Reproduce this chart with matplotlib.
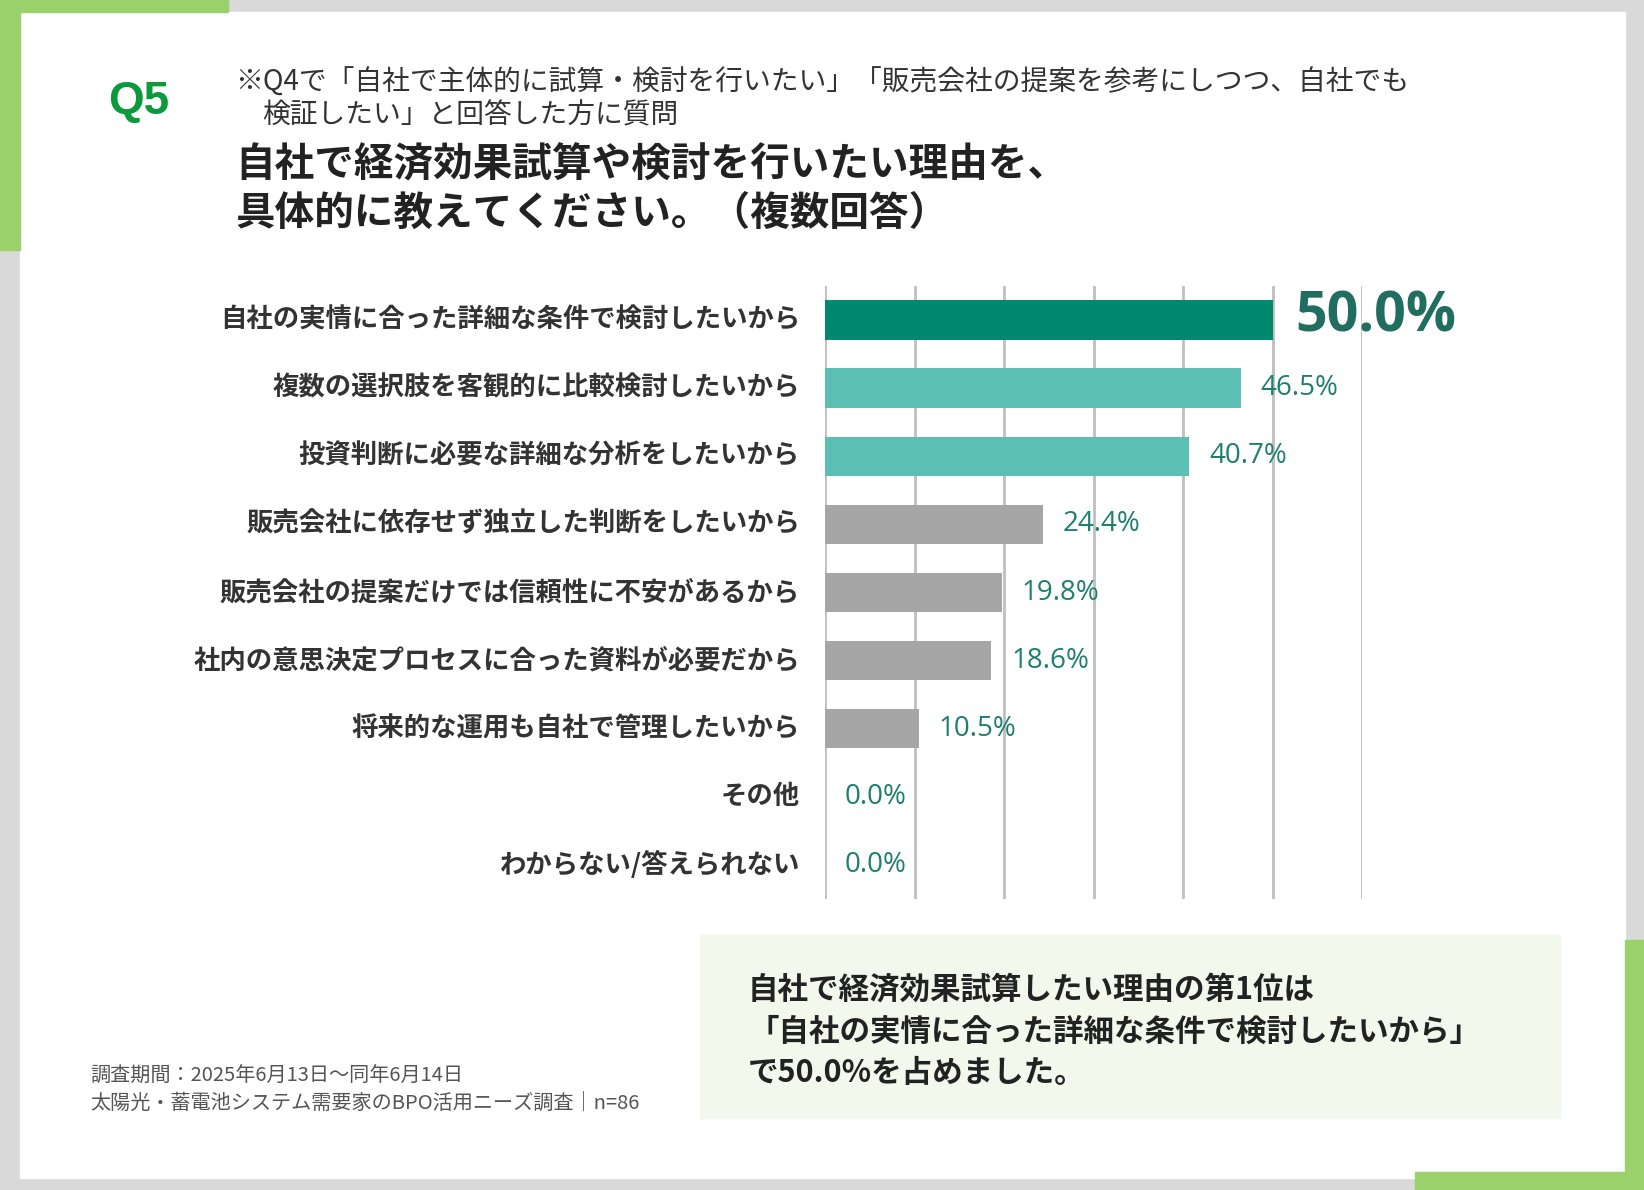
import matplotlib.pyplot as plt
from matplotlib.patches import Rectangle

plt.rcParams['font.family'] = ['Noto Sans CJK JP', 'DejaVu Sans']

categories = [
    "自社の実情に合った詳細な条件で検討したいから",
    "複数の選択肢を客観的に比較検討したいから",
    "投資判断に必要な詳細な分析をしたいから",
    "販売会社に依存せず独立した判断をしたいから",
    "販売会社の提案だけでは信頼性に不安があるから",
    "社内の意思決定プロセスに合った資料が必要だから",
    "将来的な運用も自社で管理したいから",
    "その他",
    "わからない/答えられない",
]
values = [50.0, 46.5, 40.7, 24.4, 19.8, 18.6, 10.5, 0.0, 0.0]
bar_colors = ["#00896f", "#5bbfb3", "#5bbfb3"] + ["#a6a6a6"] * 6

W, H = 1644, 1190
fig = plt.figure(figsize=(W / 100, H / 100), dpi=100)
fig.patch.set_facecolor("#d9d9d9")

def px(x, y):
    return x / W, 1 - y / H

# background panels
fig.patches.append(Rectangle((20 / W, 1 - 1178 / H), 1605 / W, 1166 / H,
                             transform=fig.transFigure, color="white", zorder=0))
green = "#9bd16a"
for (x0, y0, x1, y1) in [(0, 0, 228, 12), (0, 0, 20, 250),
                         (1415, 1172, 1644, 1190), (1625, 940, 1644, 1190)]:
    fig.patches.append(Rectangle((x0 / W, 1 - y1 / H), (x1 - x0) / W, (y1 - y0) / H,
                                 transform=fig.transFigure, color=green, zorder=1))
fig.patches.append(Rectangle((700 / W, 1 - 1118 / H), 860 / W, 183 / H,
                             transform=fig.transFigure, color="#f2f8ec", zorder=1))

# header texts
fig.text(*px(108, 102), "Q5", fontsize=33, fontweight="bold", color="#0a9a3c",
         va="center", family="Liberation Sans")
fig.text(*px(235, 83), "※Q4で「自社で主体的に試算・検討を行いたい」「販売会社の提案を参考にしつつ、自社でも",
         fontsize=20, color="#333333", va="center")
fig.text(*px(262, 115), "検証したい」と回答した方に質問", fontsize=20, color="#333333", va="center")
fig.text(*px(235, 165), "自社で経済効果試算や検討を行いたい理由を、", fontsize=28.5,
         fontweight="bold", color="#222222", va="center")
fig.text(*px(235, 213), "具体的に教えてください。（複数回答）", fontsize=28.5,
         fontweight="bold", color="#222222", va="center")

# chart axes
left, right = 825, 1362
top, bottom = 286, 899
ax = fig.add_axes([left / W, 1 - bottom / H, (right - left) / W, (bottom - top) / H],
                  zorder=5)
ax.set_facecolor("none")
ax.set_xlim(0, 60)
ax.set_ylim(len(values) - 0.5, -0.5)
for g in range(0, 61, 10):
    ax.axvline(g, color="#bfbfbf", lw=2, zorder=0)
y = list(range(len(values)))
ax.barh(y, values, height=0.58, color=bar_colors, zorder=2)
for i, (c, v) in enumerate(zip(categories, values)):
    ax.text(-2.8, i, c, ha="right", va="center", fontsize=19, fontweight="bold",
            color="#333333")
    if i == 0:
        ax.text(v + 2.5, i - 0.05, f"{v:.1f}%", ha="left", va="center", fontsize=40,
                fontweight="bold", color="#1f6e5f", family="Open Sans")
    else:
        ax.text(v + 2.2, i, f"{v:.1f}%", ha="left", va="center", fontsize=20,
                color="#1f7f6e", family="Open Sans")
ax.set_xticks([])
ax.set_yticks([])
for s in ax.spines.values():
    s.set_visible(False)

# summary box text
fig.text(*px(748, 990), "自社で経済効果試算したい理由の第1位は", fontsize=22,
         fontweight="bold", color="#222222", va="center")
fig.text(*px(748, 1032), "「自社の実情に合った詳細な条件で検討したいから」", fontsize=22,
         fontweight="bold", color="#222222", va="center")
fig.text(*px(748, 1073), "で50.0%を占めました。", fontsize=22,
         fontweight="bold", color="#222222", va="center")

# footnote
fig.text(*px(90, 1076), "調査期間：2025年6月13日～同年6月14日", fontsize=14.5,
         color="#555555", va="center")
fig.text(*px(90, 1103), "太陽光・蓄電池システム需要家のBPO活用ニーズ調査｜n=86", fontsize=14.5,
         color="#555555", va="center")

fig.savefig("out.png", dpi=100, facecolor=fig.get_facecolor())
